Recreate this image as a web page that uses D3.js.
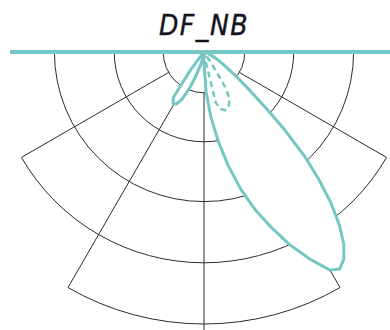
<!DOCTYPE html>
<html>
<head>
<meta charset="utf-8">
<script src="https://cdn.jsdelivr.net/npm/d3@7"></script>
<style>
  body { margin: 0; background: #fff; }
  svg { display: block; }
</style>
</head>
<body>
<div class="chart"></div>
<script>
// chart data: polar intensity curve, angle from nadir (deg, negative = left side)
var title = "DF_NB";

var solidAngles = [-90, -45, -40, -37, -34, -31, -28, -25, -22, -19, -15, -10, -5, 0,
  3, 6, 9, 12, 15, 18, 21, 24, 27, 30, 32, 34, 36, 38, 40, 42, 44, 46, 48, 50, 53, 57, 62, 70, 80, 90];
var solidValues = [0, 0, 11, 81, 202, 221, 217, 191, 147, 96, 51, 22, 15, 44,
  147, 239, 331, 426, 522, 610, 691, 776, 853, 926, 941, 919, 875, 809, 728, 632, 533, 412, 301, 221, 147, 88, 48, 18, 7, 0];

var dashedAngles = [-90, 0, 9, 11, 13, 16, 20, 24, 28, 31, 33, 36, 90];
var dashedValues = [0, 0, 0, 40, 190, 218, 228, 222, 200, 160, 60, 0, 0];

// grid: ring values with the angular span each ring covers, spokes with their length
var ringValues = [150, 330, 550, 775, 1000];
var ringSpan = [90, 90, 90, 60, 30];
var spokeAngles = [-60, -30, 0, 30, 60];
var spokeEnds = [775, 1000, 1070, 1000, 775];

var svgWidth = 390;
var svgHeight = 330;
var cx = 204, cy = 52;

var teal = "#74c7c2";

var svg = d3.select(".chart")
  .append("svg")
  .attr("width", svgWidth)
  .attr("height", svgHeight);

var r = d3.scaleLinear()
  .domain([0, 1000])
  .range([0, 272]);

// angle from nadir -> lineRadial angle (0 = up, clockwise)
var toRad = d3.scaleLinear()
  .domain([-180, 180])
  .range([2 * Math.PI, 0]);

var chartGroup = svg.append("g")
  .attr("transform", `translate(${cx}, ${cy})`);

// Grid rings
ringValues.forEach(function (v, i) {
  var p = d3.path();
  var span = ringSpan[i] * Math.PI / 180;
  p.arc(0, 0, r(v), Math.PI / 2 + span, Math.PI / 2 - span, true);
  chartGroup.append("path")
    .attr("d", p.toString())
    .attr("fill", "none")
    .attr("stroke", "#2b2b2b")
    .attr("stroke-width", 1);
});

// Grid spokes, starting at the inner ring
spokeAngles.forEach(function (a, i) {
  var t = a * Math.PI / 180;
  var r0 = r(ringValues[0]), r1 = r(spokeEnds[i]);
  chartGroup.append("line")
    .attr("x1", r0 * Math.sin(t))
    .attr("y1", r0 * Math.cos(t))
    .attr("x2", r1 * Math.sin(t))
    .attr("y2", r1 * Math.cos(t))
    .attr("stroke", "#2b2b2b")
    .attr("stroke-width", 1);
});

var radial = d3.lineRadial()
  .angle(d => toRad(d[0]))
  .radius(d => r(d[1]))
  .curve(d3.curveLinearClosed);

var solidData = d3.zip(solidAngles, solidValues);
var dashedData = d3.zip(dashedAngles, dashedValues);

// Solid curve, white filled so it covers the grid
chartGroup.append("path")
  .attr("d", radial(solidData))
  .attr("fill", "#fff")
  .attr("stroke", teal)
  .attr("stroke-width", 3)
  .attr("stroke-linejoin", "round");

// Dashed curve
chartGroup.append("path")
  .attr("d", radial(dashedData))
  .attr("fill", "none")
  .attr("stroke", teal)
  .attr("stroke-width", 2.5)
  .attr("stroke-dasharray", "6,4")
  .attr("stroke-linejoin", "round");

// 90 degree axis
chartGroup.append("line")
  .attr("x1", -194)
  .attr("y1", 0)
  .attr("x2", 200)
  .attr("y2", 0)
  .attr("stroke", teal)
  .attr("stroke-width", 4);

// Title
svg.append("text")
  .attr("x", cx)
  .attr("y", 35)
  .attr("text-anchor", "middle")
  .attr("font-family", "DejaVu Sans Condensed, DejaVu Sans")
  .attr("font-style", "italic")
  .attr("font-size", 28)
  .attr("letter-spacing", 1.5)
  .attr("fill", "#14141e")
  .attr("stroke", "#14141e")
  .attr("stroke-width", 0.4)
  .text(title);
</script>
</body>
</html>
